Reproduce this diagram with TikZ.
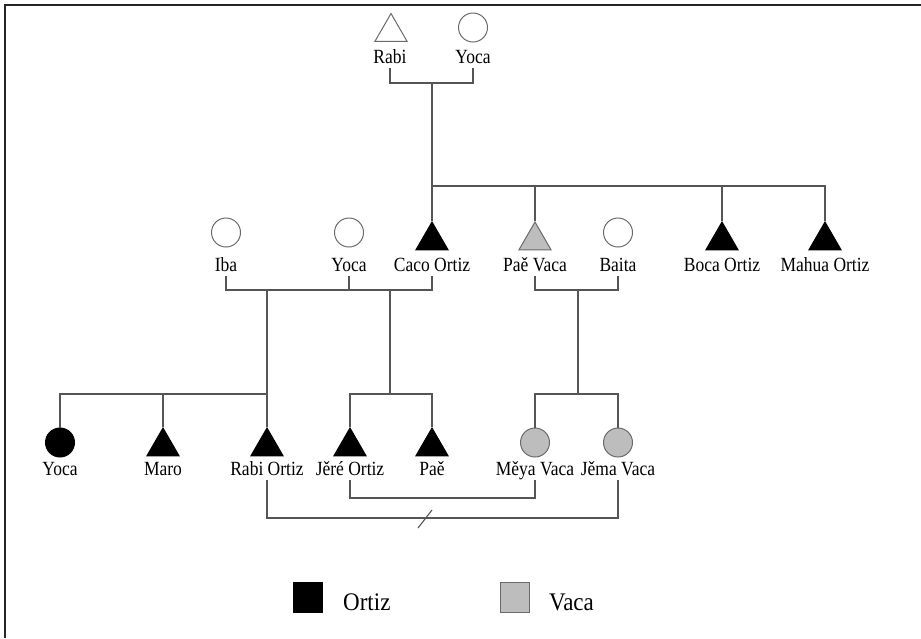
\documentclass[tikz,border=0pt]{standalone}
\usepackage{fontspec}
\usepackage{graphicx}
\setmainfont{Liberation Serif}
\usetikzlibrary{shapes.geometric}
\definecolor{lncol}{HTML}{555555}
\definecolor{vaca}{HTML}{BDBDBD}
\definecolor{outl}{HTML}{6A6A6A}
\newcommand{\lbl}[1]{\scalebox{1}[1.15]{#1}}
\begin{document}
\begin{tikzpicture}[x=1pt,y=-1pt,
  tri/.style={regular polygon, regular polygon sides=3, minimum size=37pt, inner sep=0pt, line width=1pt},
  circ/.style={circle, minimum size=29pt, inner sep=0pt, line width=1pt},
  emptyshape/.style={draw=outl, fill=white},
  ortiz/.style={draw=black, fill=black},
  vacaf/.style={draw=outl, fill=vaca},
  lab/.style={anchor=base, inner sep=0pt, font=\fontsize{17.5}{20}\selectfont},
  legtxt/.style={anchor=base west, inner sep=0pt, font=\fontsize{23}{26}\selectfont},
  conn/.style={draw=lncol, line width=1.1pt},
  legbox/.style={minimum width=29pt, minimum height=30pt, inner sep=0pt, line width=1pt}
]
\useasboundingbox (0,0) rectangle (921,638);
\draw[line width=2pt, black!85] (921,4.5) -- (5,4.5) -- (5,638);

% generation 1
\node[tri, emptyshape] (rabi) at (391,32) {};
\node[circ, emptyshape] (yoca) at (473,27.5) {};
\node[lab] (rabiL) at (390,63) {\lbl{Rabi}};
\node[lab] (yocaL) at (473,63) {\lbl{Yoca}};
\coordinate (m1) at (432,83);
\coordinate (s1) at (432,186);
\draw[conn] ([yshift=-5pt]rabiL.base) |- (m1) -| ([yshift=-5pt]yocaL.base);
\draw[conn] (m1) -- (s1);

% generation 2
\node[circ, emptyshape] (iba) at (226,232.5) {};
\node[circ, emptyshape] (yoca2) at (349,232.5) {};
\node[tri, ortiz] (caco) at (432,240.5) {};
\node[tri, vacaf] (pae) at (535,240.5) {};
\node[circ, emptyshape] (baita) at (618,232.5) {};
\node[tri, ortiz] (boca) at (722,240.5) {};
\node[tri, ortiz] (mahua) at (825,240.5) {};
\node[lab] (ibaL) at (226,271) {\lbl{Iba}};
\node[lab] (yoca2L) at (349,271) {\lbl{Yoca}};
\node[lab] (cacoL) at (432,271) {\lbl{Caco Ortiz}};
\node[lab] (paeL) at (535,271) {\lbl{Paě Vaca}};
\node[lab] (baitaL) at (618,271) {\lbl{Baita}};
\node[lab] (bocaL) at (722,271) {\lbl{Boca Ortiz}};
\node[lab] (mahuaL) at (825,271) {\lbl{Mahua Ortiz}};

\draw[conn] (caco.corner 1) |- (mahua.corner 1 |- s1) -- (mahua.corner 1);
\draw[conn] (pae.corner 1) -- (pae.corner 1 |- s1);
\draw[conn] (boca.corner 1) -- (boca.corner 1 |- s1);

\coordinate (m2) at (267,290);
\coordinate (m3) at (390,290);
\coordinate (m4) at (578,290);
\draw[conn] ([yshift=-5pt]ibaL.base) |- (cacoL.base |- m2) -- ([yshift=-5pt]cacoL.base);
\draw[conn] ([yshift=-5pt]yoca2L.base) -- (yoca2L.base |- m2);
\draw[conn] ([yshift=-5pt]paeL.base) |- (baitaL.base |- m4) -- ([yshift=-5pt]baitaL.base);

% generation 3
\coordinate (s2) at (267,394);
\coordinate (s3) at (390,394);
\coordinate (s4) at (578,394);
\node[circ, ortiz] (yoca3) at (60,442.5) {};
\node[tri, ortiz] (maro) at (163,446.5) {};
\node[tri, ortiz] (rabiO) at (267,446.5) {};
\node[tri, ortiz] (jere) at (350,446.5) {};
\node[tri, ortiz] (paeb) at (432,446.5) {};
\node[circ, vacaf] (meya) at (535,442.5) {};
\node[circ, vacaf] (jema) at (618,442.5) {};
\node[lab] (yoca3L) at (60,475) {\lbl{Yoca}};
\node[lab] (maroL) at (163,475) {\lbl{Maro}};
\node[lab] (rabiOL) at (267,475) {\lbl{Rabi Ortiz}};
\node[lab] (jereL) at (350,475) {\lbl{Jěré Ortiz}};
\node[lab] (paebL) at (432,475) {\lbl{Paě}};
\node[lab] (meyaL) at (535,475) {\lbl{Měya Vaca}};
\node[lab] (jemaL) at (618,475) {\lbl{Jěma Vaca}};

\draw[conn] (m2) -- (s2);
\draw[conn] (m3) -- (s3);
\draw[conn] (m4) -- (s4);
\draw[conn] (yoca3.north) |- (rabiO.corner 1 |- s2) -- (rabiO.corner 1);
\draw[conn] (maro.corner 1) -- (maro.corner 1 |- s2);
\draw[conn] (jere.corner 1) |- (paeb.corner 1 |- s3) -- (paeb.corner 1);
\draw[conn] (meya.north) |- (jema.north |- s4) -- (jema.north);

% marriages of generation 3
\coordinate (m5) at (440,498);
\coordinate (m6) at (425,518);
\draw[conn] ([yshift=-5pt]jereL.base) |- (meyaL.base |- m5) -- ([yshift=-5pt]meyaL.base);
\draw[conn] ([yshift=-5pt]rabiOL.base) |- (jemaL.base |- m6) -- ([yshift=-5pt]jemaL.base);
\draw[conn] ([shift={(-7,10)}]m6) -- ([shift={(7,-8)}]m6);

% legend
\node[legbox, draw=black, fill=black] (lo) at (307.5,597) {};
\node[legbox, draw=outl, fill=vaca] (lv) at (514.5,597) {};
\node[legtxt] (lot) at (343,610) {\scalebox{1}[1.1]{Ortiz}};
\node[legtxt] (lvt) at (549,610) {\scalebox{1}[1.1]{Vaca}};
\end{tikzpicture}
\end{document}
